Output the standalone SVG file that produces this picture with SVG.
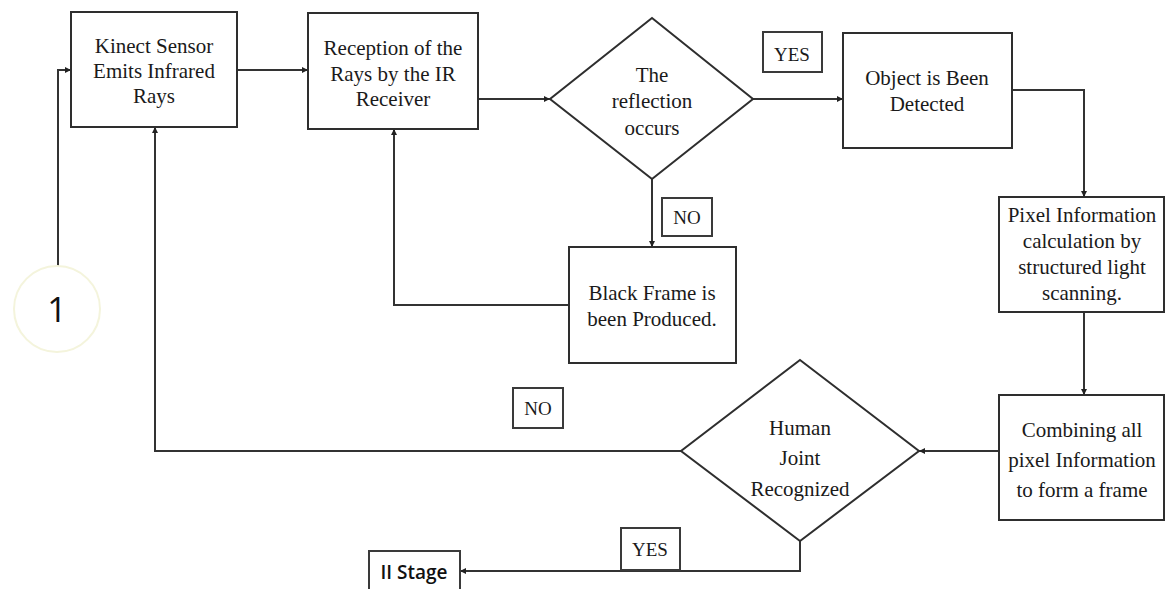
<svg xmlns="http://www.w3.org/2000/svg" width="1166" height="589" viewBox="0 0 1166 589">
<defs>
<style>
.box{fill:#fff;stroke:#2e2e2e;stroke-width:2}
.lbl{fill:#fff;stroke:#3a3a3a;stroke-width:2}
.t{font-family:"Liberation Serif","Times New Roman",serif;font-size:21px;fill:#1a1a1a;text-anchor:middle}
.ts{font-family:"Liberation Serif","Times New Roman",serif;font-size:19px;fill:#1a1a1a;text-anchor:middle}
.c{fill:none;stroke:#333;stroke-width:2;marker-end:url(#ah)}
</style>
<marker id="ah" markerUnits="userSpaceOnUse" markerWidth="7" markerHeight="7" refX="6" refY="3.5" orient="auto">
<path d="M0,0.5 L6,3.5 L0,6.5 z" fill="#222"/>
</marker>
</defs>
<rect width="1166" height="589" fill="#fff"/>

<g id="connectors">
<path class="c" d="M58,266 V70 H71"/>
<path class="c" d="M237,70 H308" stroke="#666"/>
<path class="c" d="M478,99 H550"/>
<path class="c" d="M753,99 H843"/>
<path class="c" d="M1012,90 H1084 V197"/>
<path class="c" d="M652,179 V247"/>
<path class="c" d="M569,305 H394 V129"/>
<path class="c" d="M1084,312 V395"/>
<path class="c" d="M999,451 H919"/>
<path class="c" d="M681,451 H155 V127"/>
<path class="c" d="M800,541 V571 H460"/>
</g>

<g id="start">
<circle cx="57" cy="309" r="43" fill="none" stroke="#f4f4dc" stroke-width="2"/>
<text x="57" y="322" font-family="'Open Sans','Noto Sans',sans-serif" font-size="34" fill="#111" text-anchor="middle">1</text>
</g>

<g id="kinect">
<rect class="box" x="71" y="12" width="166" height="115"/>
<text class="t" x="154" y="53">Kinect Sensor</text>
<text class="t" x="154" y="78">Emits Infrared</text>
<text class="t" x="154" y="103">Rays</text>
</g>

<g id="reception">
<rect class="box" x="308" y="13" width="170" height="116"/>
<text class="t" x="393" y="55">Reception of the</text>
<text class="t" x="393" y="81">Rays by the IR</text>
<text class="t" x="393" y="106">Receiver</text>
</g>

<g id="reflection">
<polygon class="box" points="652,18 753,99 652,179 550,99"/>
<text class="t" x="652" y="82">The</text>
<text class="t" x="652" y="108">reflection</text>
<text class="t" x="652" y="135">occurs</text>
</g>

<g id="yes1">
<rect class="lbl" x="763" y="32" width="59" height="40"/>
<text class="ts" x="792" y="61">YES</text>
</g>

<g id="object">
<rect class="box" x="843" y="33" width="169" height="115"/>
<text class="t" x="927" y="85">Object is Been</text>
<text class="t" x="927" y="111">Detected</text>
</g>

<g id="no1">
<rect class="lbl" x="662" y="198" width="50" height="38"/>
<text class="ts" x="687" y="224">NO</text>
</g>

<g id="black">
<rect class="box" x="569" y="247" width="167" height="116"/>
<text class="t" x="652" y="300">Black Frame is</text>
<text class="t" x="652" y="326">been Produced.</text>
</g>

<g id="pixel">
<rect class="box" x="999" y="197" width="165" height="115"/>
<text class="t" x="1082" y="222">Pixel Information</text>
<text class="t" x="1082" y="248">calculation by</text>
<text class="t" x="1082" y="274">structured light</text>
<text class="t" x="1082" y="300">scanning.</text>
</g>

<g id="combining">
<rect class="box" x="999" y="395" width="165" height="125"/>
<text class="t" x="1082" y="437">Combining all</text>
<text class="t" x="1082" y="467">pixel Information</text>
<text class="t" x="1082" y="497">to form a frame</text>
</g>

<g id="human">
<polygon class="box" points="800,360 919,451 800,541 681,451"/>
<text class="t" x="800" y="435">Human</text>
<text class="t" x="800" y="465">Joint</text>
<text class="t" x="800" y="496">Recognized</text>
</g>

<g id="no2">
<rect class="lbl" x="513" y="388" width="50" height="40"/>
<text class="ts" x="538" y="415">NO</text>
</g>

<g id="yes2">
<rect class="lbl" x="621" y="528" width="59" height="42"/>
<text class="ts" x="650" y="556">YES</text>
</g>

<g id="stage2">
<rect class="lbl" x="369" y="551" width="91" height="40"/>
<text x="414" y="579" font-family="'Open Sans','Noto Sans',sans-serif" font-size="19" font-weight="600" fill="#111" text-anchor="middle">II Stage</text>
</g>
</svg>
